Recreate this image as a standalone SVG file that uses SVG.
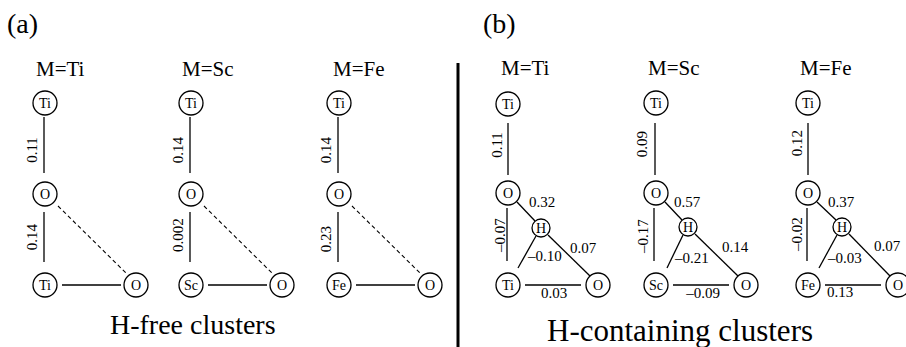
<svg xmlns="http://www.w3.org/2000/svg" width="906" height="347" viewBox="0 0 906 347" font-family="'Liberation Serif', 'DejaVu Serif', serif">
<style>
text{font-family:'Liberation Serif','DejaVu Serif',serif;fill:#000}
.n circle{fill:#fff;stroke:#000;stroke-width:1.3}
.n text{font-size:14px;text-anchor:middle}
.e line{stroke:#000;stroke-width:1.3}
.e line.d{stroke-dasharray:4 3;stroke-width:1.1}
.lb{font-size:15px}
.r{font-size:15px;text-anchor:middle}
.t{font-size:21px}
.p{font-size:28px}
.big{font-size:28px}
</style>
<rect width="906" height="347" fill="#fff"/>
<text class="p" x="7" y="33">(a)</text>
<text class="p" x="483" y="33">(b)</text>
<text class="t" x="36" y="76">M=Ti</text>
<text class="t" x="182" y="76">M=Sc</text>
<text class="t" x="333" y="76">M=Fe</text>
<text class="t" x="501" y="75">M=Ti</text>
<text class="t" x="648" y="75">M=Sc</text>
<text class="t" x="800" y="75">M=Fe</text>
<line x1="458" y1="63" x2="458" y2="347" stroke="#000" stroke-width="3"/>
<g id="connectors" class="e">
<line x1="44" y1="117" x2="44" y2="173"/><line x1="44" y1="212" x2="44" y2="262"/>
<line x1="58" y1="206" x2="127" y2="274" class="d"/><line x1="62" y1="285" x2="121" y2="285"/>
<line x1="190" y1="117" x2="190" y2="173"/><line x1="190" y1="212" x2="190" y2="262"/>
<line x1="204" y1="206" x2="273" y2="274" class="d"/><line x1="208" y1="285" x2="267" y2="285"/>
<line x1="338" y1="117" x2="338" y2="173"/><line x1="338" y1="212" x2="338" y2="262"/>
<line x1="352" y1="206" x2="421" y2="274" class="d"/><line x1="356" y1="285" x2="415" y2="285"/>
<line x1="508" y1="123" x2="508" y2="175"/><line x1="507" y1="208" x2="507" y2="261"/>
<line x1="517" y1="202" x2="535" y2="221"/><line x1="536" y1="236" x2="518" y2="268"/>
<line x1="548" y1="235" x2="590" y2="276"/><line x1="525" y1="285" x2="581" y2="285"/>
<line x1="655" y1="123" x2="655" y2="175"/><line x1="654" y1="208" x2="654" y2="261"/>
<line x1="665" y1="202" x2="682" y2="220"/><line x1="683" y1="235" x2="667" y2="268"/>
<line x1="695" y1="234" x2="738" y2="276"/><line x1="673" y1="285" x2="729" y2="285"/>
<line x1="808" y1="123" x2="808" y2="175"/><line x1="807" y1="208" x2="807" y2="261"/>
<line x1="817" y1="202" x2="836" y2="220"/><line x1="837" y1="235" x2="819" y2="268"/>
<line x1="849" y1="234" x2="890" y2="276"/><line x1="825" y1="285" x2="881" y2="285"/>
</g>
<g id="edge-labels">
<text class="r" transform="translate(37,150) rotate(-90)">0.11</text>
<text class="r" transform="translate(37,237) rotate(-90)">0.14</text>
<text class="r" transform="translate(183,150) rotate(-90)">0.14</text>
<text class="r" transform="translate(183,235) rotate(-90)">0.002</text>
<text class="r" transform="translate(331,150) rotate(-90)">0.14</text>
<text class="r" transform="translate(331,239) rotate(-90)">0.23</text>
<text class="r" transform="translate(502,145) rotate(-90)">0.11</text>
<text class="r" transform="translate(505,235) rotate(-90)">–0.07</text>
<text class="r" transform="translate(647,144) rotate(-90)">0.09</text>
<text class="r" transform="translate(648,236) rotate(-90)">–0.17</text>
<text class="r" transform="translate(802,143) rotate(-90)">0.12</text>
<text class="r" transform="translate(802,234) rotate(-90)">–0.02</text>
<text class="lb" x="529" y="207">0.32</text>
<text class="lb" x="570" y="253">0.07</text>
<text class="lb" x="528" y="261">–0.10</text>
<text class="r" x="554" y="298">0.03</text>
<text class="lb" x="674" y="207">0.57</text>
<text class="lb" x="722" y="252">0.14</text>
<text class="lb" x="675" y="263">–0.21</text>
<text class="r" x="703" y="298">–0.09</text>
<text class="lb" x="828" y="207">0.37</text>
<text class="lb" x="874" y="251">0.07</text>
<text class="lb" x="828" y="263">–0.03</text>
<text class="r" x="840" y="297">0.13</text>
</g>
<g id="a-ti-top" class="n"><circle cx="45" cy="103" r="12"/><text x="45" y="108">Ti</text></g>
<g id="a-ti-o" class="n"><circle cx="45" cy="194" r="12"/><text x="45" y="199">O</text></g>
<g id="a-ti-m" class="n"><circle cx="45" cy="285" r="12"/><text x="45" y="290">Ti</text></g>
<g id="a-ti-o2" class="n"><circle cx="136" cy="285" r="12"/><text x="136" y="290">O</text></g>
<g id="a-sc-top" class="n"><circle cx="191" cy="103" r="12"/><text x="191" y="108">Ti</text></g>
<g id="a-sc-o" class="n"><circle cx="191" cy="194" r="12"/><text x="191" y="199">O</text></g>
<g id="a-sc-m" class="n"><circle cx="191" cy="285" r="12"/><text x="191" y="290">Sc</text></g>
<g id="a-sc-o2" class="n"><circle cx="282" cy="285" r="12"/><text x="282" y="290">O</text></g>
<g id="a-fe-top" class="n"><circle cx="339" cy="103" r="12"/><text x="339" y="108">Ti</text></g>
<g id="a-fe-o" class="n"><circle cx="339" cy="194" r="12"/><text x="339" y="199">O</text></g>
<g id="a-fe-m" class="n"><circle cx="339" cy="285" r="12"/><text x="339" y="290">Fe</text></g>
<g id="a-fe-o2" class="n"><circle cx="430" cy="285" r="12"/><text x="430" y="290">O</text></g>
<g id="b-ti-top" class="n"><circle cx="508" cy="104" r="12"/><text x="508" y="109">Ti</text></g>
<g id="b-ti-o" class="n"><circle cx="508" cy="193" r="12"/><text x="508" y="198">O</text></g>
<g id="b-ti-h" class="n"><circle cx="541" cy="228" r="9"/><text x="541" y="233">H</text></g>
<g id="b-ti-m" class="n"><circle cx="508" cy="285" r="12"/><text x="508" y="290">Ti</text></g>
<g id="b-ti-o2" class="n"><circle cx="598" cy="285" r="12"/><text x="598" y="290">O</text></g>
<g id="b-sc-top" class="n"><circle cx="656" cy="103" r="12"/><text x="656" y="108">Ti</text></g>
<g id="b-sc-o" class="n"><circle cx="656" cy="193" r="12"/><text x="656" y="198">O</text></g>
<g id="b-sc-h" class="n"><circle cx="688" cy="227" r="9"/><text x="688" y="232">H</text></g>
<g id="b-sc-m" class="n"><circle cx="656" cy="285" r="12"/><text x="656" y="290">Sc</text></g>
<g id="b-sc-o2" class="n"><circle cx="746" cy="285" r="12"/><text x="746" y="290">O</text></g>
<g id="b-fe-top" class="n"><circle cx="808" cy="103" r="12"/><text x="808" y="108">Ti</text></g>
<g id="b-fe-o" class="n"><circle cx="808" cy="193" r="12"/><text x="808" y="198">O</text></g>
<g id="b-fe-h" class="n"><circle cx="842" cy="227" r="9"/><text x="842" y="232">H</text></g>
<g id="b-fe-m" class="n"><circle cx="808" cy="285" r="12"/><text x="808" y="290">Fe</text></g>
<g id="b-fe-o2" class="n"><circle cx="898" cy="285" r="12"/><text x="898" y="290">O</text></g>
<text class="big" x="110" y="334">H-free clusters</text>
<text class="big" x="547" y="341" style="font-size:31px">H-containing clusters</text>
</svg>
